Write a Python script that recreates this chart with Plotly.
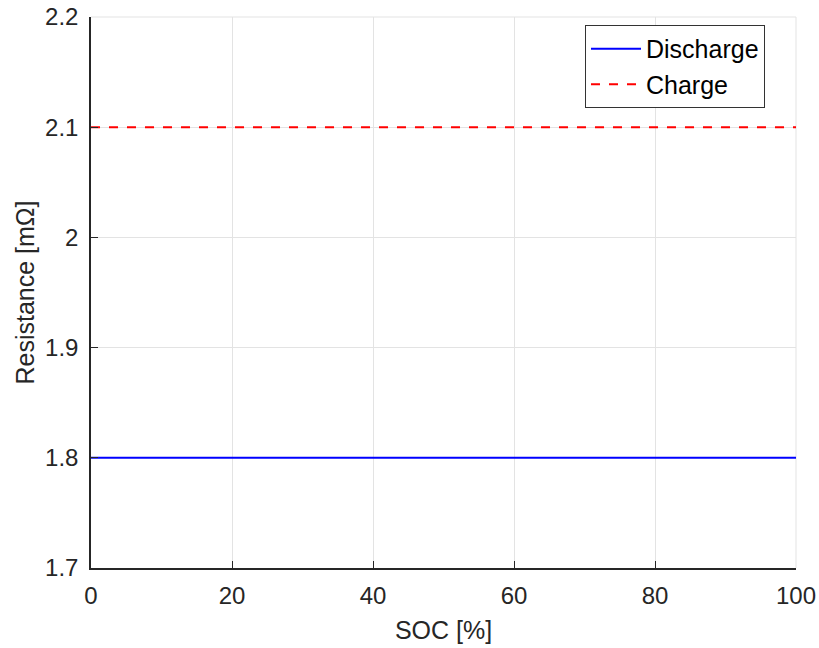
import plotly.graph_objects as go

soc = [0, 100]
discharge = [1.8, 1.8]
charge = [2.1, 2.1]
x_ticks = [0, 20, 40, 60, 80, 100]
y_ticks = [1.7, 1.8, 1.9, 2.0, 2.1, 2.2]
y_labels = ["1.7", "1.8", "1.9", "2", "2.1", "2.2"]

fig = go.Figure()
fig.add_trace(go.Scatter(x=soc, y=discharge, mode="lines", name="Discharge",
                         line=dict(color="#0000ff", width=2)))
fig.add_trace(go.Scatter(x=soc, y=charge, mode="lines", name="Charge",
                         line=dict(color="#ff0000", width=2, dash="dash")))

font = "Liberation Sans, Arial, sans-serif"
fig.update_layout(
    width=819, height=648,
    margin=dict(l=91, r=23, t=17, b=80, autoexpand=False),
    paper_bgcolor="white", plot_bgcolor="white",
    font=dict(family=font, size=24, color="#262626"),
    legend=dict(x=0.7007, y=0.9855, xanchor="left", yanchor="top",
                bgcolor="white", bordercolor="#333333", borderwidth=1,
                font=dict(size=25, color="black"), tracegroupgap=0,
                itemwidth=50),
    xaxis=dict(range=[0, 100], tickvals=x_ticks, showgrid=True, gridcolor="#e3e3e3",
               showline=True, linecolor="#262626", linewidth=1.5, ticks="inside",
               ticklen=7, tickcolor="#262626", zeroline=False, automargin=False,
               title=dict(text="SOC [%]", font=dict(size=25), standoff=14),
               tickfont=dict(size=24), mirror=False),
    yaxis=dict(range=[1.7, 2.2], tickvals=y_ticks, ticktext=y_labels, showgrid=True,
               gridcolor="#e3e3e3", showline=True, linecolor="#262626", linewidth=1.5,
               ticks="inside", ticklen=7, tickcolor="#262626", zeroline=False,
               automargin=False,
               title=dict(text="Resistance [mΩ]", font=dict(size=25), standoff=3),
               tickfont=dict(size=24)),
)
fig.update_xaxes(ticklabelstandoff=5)
fig.update_yaxes(ticklabelstandoff=6)
# top & right gridline borders (light)
fig.add_shape(type="line", xref="paper", yref="paper", x0=0, x1=1, y0=1, y1=1,
              line=dict(color="#e3e3e3", width=1), layer="below")
fig.add_shape(type="line", xref="paper", yref="paper", x0=1, x1=1, y0=0, y1=1,
              line=dict(color="#e3e3e3", width=1), layer="below")

fig.write_html("out.html")
